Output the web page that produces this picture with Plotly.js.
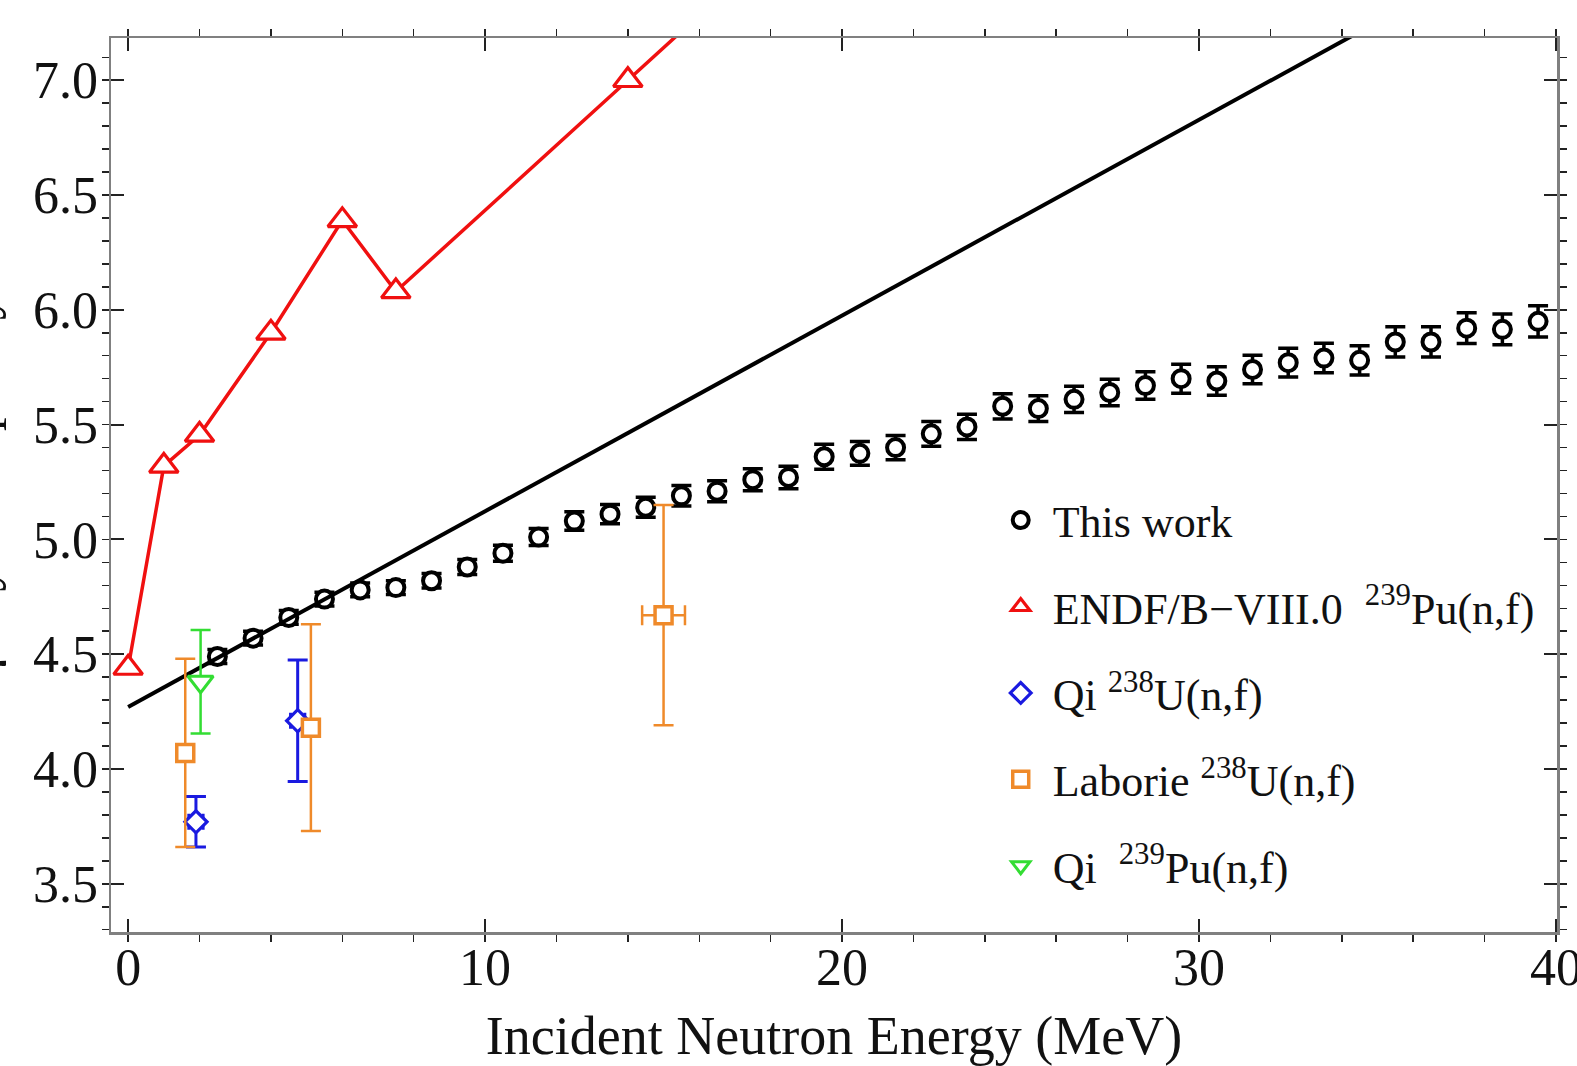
<!DOCTYPE html>
<html>
<head>
<meta charset="utf-8">
<script src="https://cdn.plot.ly/plotly-3.0.1.min.js"></script>
<style>html,body{margin:0;padding:0;background:#fff;}#chart{width:1577px;height:1066px;}</style>
</head>
<body>
<div id="chart"></div>
<script>
// ---- Data ----
const thisWorkE = [2.5, 3.5, 4.5, 5.5, 6.5, 7.5, 8.5, 9.5, 10.5, 11.5, 12.5, 13.5, 14.5, 15.5, 16.5, 17.5, 18.5, 19.5, 20.5, 21.5, 22.5, 23.5, 24.5, 25.5, 26.5, 27.5, 28.5, 29.5, 30.5, 31.5, 32.5, 33.5, 34.5, 35.5, 36.5, 37.5, 38.5, 39.5];
const thisWorkM = [4.49, 4.57, 4.66, 4.74, 4.78, 4.79, 4.82, 4.88, 4.94, 5.01, 5.08, 5.11, 5.14, 5.19, 5.21, 5.26, 5.27, 5.36, 5.375, 5.40, 5.46, 5.49, 5.58, 5.57, 5.61, 5.64, 5.67, 5.70, 5.69, 5.74, 5.77, 5.79, 5.78, 5.86, 5.86, 5.92, 5.915, 5.95];
const thisWorkErr = [0.03, 0.03, 0.03, 0.03, 0.03, 0.03, 0.032, 0.033, 0.035, 0.037, 0.04, 0.042, 0.044, 0.045, 0.046, 0.048, 0.049, 0.054, 0.052, 0.053, 0.054, 0.055, 0.055, 0.056, 0.057, 0.058, 0.06, 0.063, 0.062, 0.062, 0.063, 0.064, 0.064, 0.066, 0.066, 0.067, 0.067, 0.068];

const fitE = [0, 40];
const fitM = [4.27, 7.68];

const endfE = [0, 1, 2, 4, 6, 7.5, 14, 20];
const endfM = [4.44, 5.32, 5.455, 5.90, 6.39, 6.08, 7.0, 7.85];

const qiUE = [1.9, 4.75];
const qiUM = [3.77, 4.21];
const qiUErr = [0.11, 0.265];
const qiUErrE = [0.2, 0.2];

const labE = [1.6, 5.12, 15.0];
const labM = [4.07, 4.18, 4.67];
const labErr = [0.41, 0.45, 0.48];
const labErrE = [0, 0, 0.6];

const qiPuE = [2.03];
const qiPuM = [4.38];
const qiPuErr = [0.225];

const names = {
  thisWork: 'This work',
  endf: 'ENDF/B\u2212VIII.0\u00a0\u00a0<sup>239</sup>Pu(n,f)',
  qiU: 'Qi <sup>238</sup>U(n,f)',
  lab: 'Laborie <sup>238</sup>U(n,f)',
  qiPu: 'Qi\u00a0\u00a0<sup>239</sup>Pu(n,f)'
};
const xTitle = 'Incident Neutron Energy (MeV)';
const yTitle = '\u03b3-ray Multiplicity';

const RED = '#f01010', BLUE = '#1a1ae0', ORANGE = '#ef8a2a', GREEN = '#33dd33';

const traces = [
  {
    x: thisWorkE, y: thisWorkM, type: 'scatter', mode: 'markers', name: names.thisWork,
    legendgroup: 'a',
    marker: {symbol: 'circle', size: 17, color: 'rgba(255,255,255,1)', line: {color: '#000', width: 4}},
    error_y: {type: 'data', array: thisWorkErr, visible: true, color: '#000', thickness: 3.5, width: 10}
  },
  {
    x: fitE, y: fitM, type: 'scatter', mode: 'lines', showlegend: false,
    line: {color: '#000', width: 4}
  },
  {
    x: endfE, y: endfM, type: 'scatter', mode: 'lines', showlegend: false,
    line: {color: RED, width: 3.5}
  },
  {
    x: endfE, y: endfM, type: 'scatter', mode: 'markers', name: names.endf,
    legendgroup: 'b',
    marker: {symbol: 'triangle-up', size: 25, color: '#fff', line: {color: RED, width: 3.2}}
  },
  {
    x: qiUE, y: qiUM, type: 'scatter', mode: 'markers', name: names.qiU,
    legendgroup: 'c',
    marker: {symbol: 'diamond', size: 17, color: '#fff', line: {color: BLUE, width: 3.2}},
    error_y: {type: 'data', array: qiUErr, visible: true, color: BLUE, thickness: 3, width: 10},
    error_x: {type: 'data', array: qiUErrE, visible: true, color: BLUE, thickness: 3, width: 8}
  },
  {
    x: labE, y: labM, type: 'scatter', mode: 'markers', name: names.lab,
    legendgroup: 'd',
    marker: {symbol: 'square', size: 17, color: '#fff', line: {color: ORANGE, width: 3.5}},
    error_y: {type: 'data', array: labErr, visible: true, color: ORANGE, thickness: 2.5, width: 10},
    error_x: {type: 'data', array: labErrE, visible: true, color: ORANGE, thickness: 2.5, width: 10}
  },
  {
    x: qiPuE, y: qiPuM, type: 'scatter', mode: 'markers', name: names.qiPu,
    legendgroup: 'e',
    marker: {symbol: 'triangle-down', size: 22, color: '#fff', line: {color: GREEN, width: 3}},
    error_y: {type: 'data', array: qiPuErr, visible: true, color: GREEN, thickness: 2.5, width: 10}
  }
];

const FONT = 'Liberation Serif, Times New Roman, serif';
const axisCommon = {
  ticks: 'inside', ticklen: 13, tickwidth: 2, tickcolor: '#222',
  mirror: 'allticks', showline: true, linecolor: '#808080', linewidth: 2.5,
  showgrid: false, zeroline: false, ticklabeloverflow: 'allow',
  tickfont: {family: FONT, size: 52, color: '#111'}
};

const layout = {
  width: 1577, height: 1066,
  margin: {l: 111, r: 20, t: 38, b: 134},
  paper_bgcolor: '#fff', plot_bgcolor: '#fff',
  font: {family: FONT, color: '#111'},
  showlegend: true,
  legend: {
    x: 0.607, y: 0.50, xanchor: 'left', yanchor: 'top',
    font: {family: FONT, size: 44, color: '#111'},
    bgcolor: 'rgba(0,0,0,0)', borderwidth: 0,
    itemwidth: 54,
    traceorder: 'grouped', tracegroupgap: 26.2
  },
  xaxis: Object.assign({}, axisCommon, {
    range: [-0.48, 40.03], tick0: 0, dtick: 10,
    ticklabelstandoff: -12,
    minor: {dtick: 2, ticklen: 7, tickwidth: 1.5, tickcolor: '#222', showgrid: false},
    title: {text: xTitle, font: {family: FONT, size: 54, color: '#111'}, standoff: 30}
  }),
  yaxis: Object.assign({}, axisCommon, {
    range: [3.29, 7.184], tick0: 3.5, dtick: 0.5, tickformat: '.1f',
    minor: {dtick: 0.1, ticklen: 7, tickwidth: 1.5, tickcolor: '#222', showgrid: false},
    title: {text: ''}
  }),
  annotations: [{
    text: yTitle, textangle: -90, showarrow: false,
    xref: 'paper', yref: 'paper', x: -0.071, y: 0.5,
    xanchor: 'right', yanchor: 'middle',
    font: {family: FONT, size: 54, color: '#111'}
  }]
};

Plotly.newPlot('chart', traces, layout, {displayModeBar: false, staticPlot: true});
</script>
</body>
</html>
